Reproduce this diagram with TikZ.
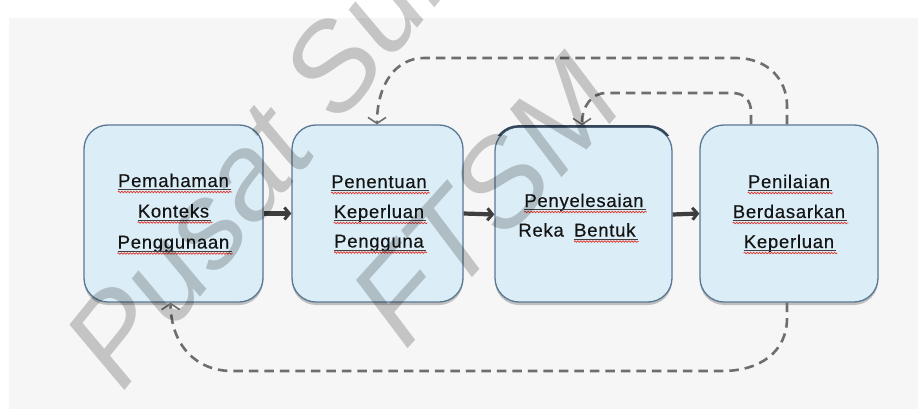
\documentclass[tikz,border=0pt]{standalone}
\usepackage{fontspec}
\setmainfont{Liberation Sans}
\newfontfamily\stagefont[LetterSpace=4,FakeBold=0.4]{Liberation Sans}
\usetikzlibrary{arrows.meta,shadows,decorations.pathmorphing,calc}

\definecolor{pagebg}{HTML}{F6F6F6}
\definecolor{stagefill}{HTML}{DBEDF6}
\definecolor{stageline}{HTML}{5A7893}
\definecolor{stagedark}{HTML}{34465C}
\definecolor{flowgray}{HTML}{3E3E3E}
\definecolor{loopgray}{HTML}{6E6E6E}
\definecolor{spellred}{HTML}{E2332B}

% underline plus red wavy mark under a word node
\newcommand\spellmark[1]{%
  \draw[wordline] ($(#1.base west)+(0,2.4)$) -- ($(#1.base east)+(2,2.4)$);
  \draw[wavyline] ($(#1.base west)+(0,5)$) -- ($(#1.base east)+(3,5)$);}

\begin{document}
\begin{tikzpicture}[x=1pt,y=-1pt,
  stage/.style={draw=stageline, line width=1.3pt, fill=stagefill,
    rounded corners=24pt, inner sep=0pt, minimum height=177pt,
    drop shadow={shadow xshift=0pt, shadow yshift=-3pt, opacity=0.22, fill=black}},
  stagetext/.style={font=\stagefont\fontsize{18.5}{20}\selectfont, inner sep=0pt,
    anchor=base, text=black!92},
  wordline/.style={draw=black!75, line width=0.7pt},
  wavyline/.style={draw=spellred, line width=0.7pt, decorate,
    decoration={snake, amplitude=0.8pt, segment length=3pt}},
  flowarrow/.style={draw=flowgray, line width=4.2pt,
    -{Straight Barb[length=5pt, width=12pt, line width=3pt]}},
  feedback/.style={draw=loopgray, line width=2.6pt, dash pattern=on 9.5pt off 6pt,
    -{Straight Barb[length=6pt, width=18pt, line width=1.6pt]}},
  stamp/.style={font=\fontsize{122}{122}\selectfont\itshape, inner sep=0pt,
    anchor=base west, text=black, text opacity=0.2}]

% canvas
\fill[white] (0,0) rectangle (918,409);
\fill[pagebg] (9,18) rectangle (918,409);
\useasboundingbox (0,0) rectangle (918,409);

% the four stages
\node[stage, minimum width=179pt] (b1) at (173.5,213.5) {};
\node[stage, minimum width=171pt] (b2) at (377.5,213.5) {};
\node[stage, minimum width=177pt, minimum height=175pt] (b3) at (583.5,214.5) {};
\node[stage, minimum width=178pt] (b4) at (789,213.5) {};

% heavier top edge of the third stage
\begin{scope}
  \clip (480,110) rectangle (690,136);
  \draw[stagedark, line width=2.4pt, rounded corners=24pt]
    (b3.north west) rectangle (b3.south east);
\end{scope}

% stage texts
\node[stagetext] (t11) at (173.5,187) {Pemahaman};
\node[stagetext] (t12) at (173.5,217.5) {Konteks};
\node[stagetext] (t13) at (173.5,248.5) {Penggunaan};
\node[stagetext] (t21) at (379,188) {Penentuan};
\node[stagetext] (t22) at (379,218) {Keperluan};
\node[stagetext] (t23) at (379,247.5) {Pengguna};
\node[stagetext] (t31) at (584,207) {Penyelesaian};
\node[stagetext, anchor=base east] (t32) at (564,236.5) {Reka};
\node[stagetext, anchor=base west] (t33) at ([xshift=10pt]t32.base east) {Bentuk};
\node[stagetext] (t41) at (789,188) {Penilaian};
\node[stagetext] (t42) at (789,218) {Berdasarkan};
\node[stagetext] (t43) at (789,248) {Keperluan};

\foreach \w in {t11,t12,t13,t21,t22,t23,t31,t33,t41,t42,t43}{\spellmark{\w}}

% main flow
\draw[flowarrow] (b1.east) -- (b2.west);
\draw[flowarrow] (b2.east) -- (b3.west);
\draw[flowarrow] (b3.east) -- (b4.west);

% feedback loops
\draw[feedback] ($(b4.north)+(-2,0)$) -- (787,106)
  .. controls (787,78) and (766,58) .. (736,58) -- (424,58)
  .. controls (396,58) and (377,84) .. ($(b2.north)+(-0.5,0)$);
\draw[feedback] ($(b4.north)+(-38,0)$) -- (751,112)
  .. controls (751,100) and (744,93) .. (732,93) -- (606,93)
  .. controls (592,93) and (582,106) .. ($(b3.north)+(-1.5,-1)$);
\draw[feedback] ($(b4.south)+(-2,0)$) -- (787,318)
  .. controls (787,352) and (760,371) .. (722,371) -- (232,371)
  .. controls (196,371) and (171,345) .. ($(b1.south)+(-3,0)$);

% library stamp
\begin{scope}
  \clip (0,0) rectangle (918,409);
  \node[stamp, rotate=51] (wm1) at (122,394) {Pusat Sumber};
  \node[stamp, rotate=48] (wm2) at (405,352) {FTSM};
\end{scope}
\end{tikzpicture}
\end{document}
